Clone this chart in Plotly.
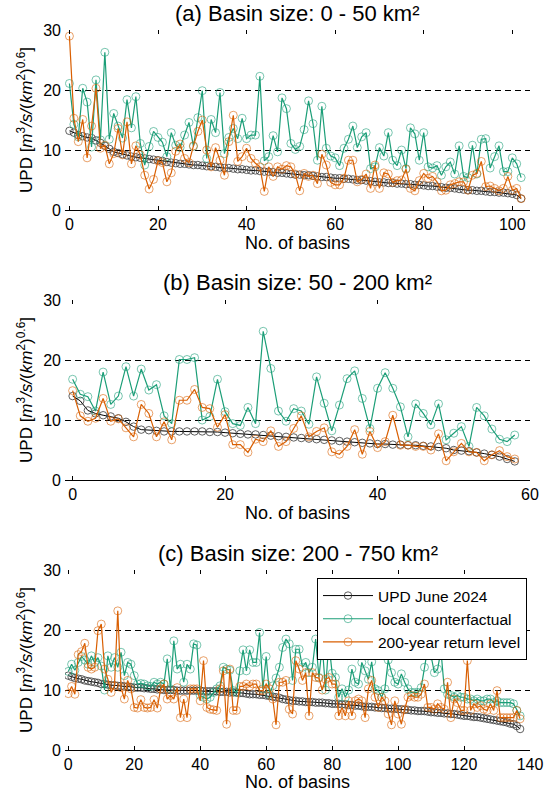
import plotly.graph_objects as go

# ---------------- data ----------------
series_names = ["UPD June 2024", "local counterfactual", "200-year return level"]
panel_titles = ["(a) Basin size: 0 - 50 km²", "(b) Basin size: 50 - 200 km²", "(c) Basin size: 200 - 750 km²"]
x_ticks_a = [0, 20, 40, 60, 80, 100]
x_ticks_b = [0, 20, 40, 60]
x_ticks_c = [0, 20, 40, 60, 80, 100, 120, 140]
y_ticks = [0, 10, 20, 30]

upd_a = [13.2, 12.9, 12.5, 12.3, 12.1, 12.0, 11.6, 11.2, 10.7, 10.2,
         9.7, 9.5, 9.3, 9.1, 8.9, 8.8, 8.7, 8.6, 8.5, 8.4,
         8.3, 8.2, 8.0, 7.9, 7.8, 7.7, 7.7, 7.6, 7.5, 7.5,
         7.4, 7.3, 7.3, 7.2, 7.1, 7.0, 7.0, 6.9, 6.8, 6.8,
         6.7, 6.6, 6.6, 6.5, 6.4, 6.4, 6.3, 6.2, 6.2, 6.1,
         6.0, 5.9, 5.9, 5.8, 5.8, 5.7, 5.6, 5.5, 5.5, 5.4,
         5.3, 5.3, 5.2, 5.2, 5.1, 5.0, 5.0, 4.9, 4.8, 4.7,
         4.6, 4.6, 4.5, 4.5, 4.4, 4.4, 4.3, 4.3, 4.2, 4.2,
         4.1, 4.0, 4.0, 3.9, 3.8, 3.7, 3.7, 3.6, 3.5, 3.4,
         3.3, 3.3, 3.2, 3.2, 3.1, 3.0, 3.0, 2.9, 2.9, 2.8,
         2.7, 2.5, 1.9]
cf_a = [21.1, 14.3, 12.2, 20.3, 18.0, 10.5, 21.7, 11.7, 26.3, 11.8,
        16.1, 14.0, 12.0, 18.4, 13.7, 18.9, 11.1, 7.5, 10.6, 13.1,
        12.1, 11.3, 8.9, 12.9, 10.8, 10.4, 12.5, 14.6, 10.6, 15.4,
        19.9, 8.6, 15.1, 12.9, 19.6, 9.4, 12.1, 13.6, 11.9, 15.3,
        11.9, 12.5, 12.5, 22.3, 8.2, 8.9, 12.4, 9.7, 18.7, 16.9,
        11.1, 10.1, 10.6, 13.4, 18.2, 14.4, 8.3, 17.3, 10.3, 9.0,
        8.7, 7.4, 10.3, 11.8, 14.0, 10.4, 12.2, 12.9, 6.9, 7.2,
        10.4, 9.0, 12.9, 8.3, 7.4, 10.0, 6.9, 13.7, 12.7, 8.3,
        12.9, 7.2, 7.0, 7.4, 5.8, 7.2, 8.0, 6.0, 10.7, 5.6,
        5.4, 10.8, 6.0, 11.8, 11.9, 7.0, 8.9, 10.7, 6.4, 6.4,
        8.7, 7.7, 5.4]
rl_a = [29.0, 15.3, 11.4, 15.1, 8.7, 14.0, 20.3, 10.3, 10.8, 7.7,
        9.4, 13.6, 9.2, 14.7, 7.7, 10.7, 9.2, 5.8, 3.5, 5.1,
        8.2, 7.9, 4.7, 6.2, 9.8, 11.0, 8.6, 7.9, 10.7, 13.1,
        15.0, 10.0, 7.2, 10.4, 8.3, 5.8, 11.4, 15.8, 8.1, 8.9,
        10.3, 8.6, 7.8, 7.2, 3.1, 7.2, 5.6, 7.2, 6.8, 7.4,
        7.2, 6.0, 3.2, 6.1, 5.6, 5.8, 4.4, 9.3, 7.5, 4.6,
        4.2, 4.2, 5.3, 8.3, 8.3, 4.7, 5.1, 6.0, 3.6, 7.5,
        3.6, 6.2, 6.0, 4.6, 4.9, 5.0, 6.8, 3.6, 3.2, 4.9,
        6.1, 5.3, 5.6, 4.7, 3.2, 3.3, 4.2, 4.4, 4.7, 4.7,
        3.3, 5.8, 6.1, 8.1, 3.9, 4.0, 3.6, 3.2, 3.6, 5.6,
        3.3, 3.6, 1.9]

upd_b = [14.0, 13.2, 11.6, 11.1, 10.8, 10.6, 10.3, 9.7, 8.9, 8.4,
         8.3, 8.2, 8.1, 8.1, 8.1, 8.1, 8.1, 8.1, 8.0, 8.0,
         7.9, 7.8, 7.7, 7.6, 7.6, 7.5, 7.4, 7.3, 7.2, 7.1,
         7.0, 6.9, 6.8, 6.7, 6.6, 6.5, 6.4, 6.3, 6.2, 6.1,
         6.0, 6.0, 5.9, 5.9, 5.8, 5.8, 5.7, 5.6, 5.5, 5.3,
         5.0, 4.9, 4.8, 4.6, 4.4, 4.2, 3.9, 3.5, 3.1]
cf_b = [16.8, 14.3, 13.9, 11.5, 18.0, 12.6, 14.0, 18.9, 14.0, 18.5,
        15.0, 15.9, 10.7, 9.4, 20.1, 20.1, 20.4, 10.0, 10.6, 16.8,
        11.4, 9.4, 9.1, 12.1, 9.4, 24.8, 18.6, 11.5, 9.8, 11.9,
        11.5, 9.3, 17.2, 12.8, 8.2, 12.5, 16.9, 18.2, 13.6, 8.6,
        15.3, 17.9, 15.3, 12.2, 7.2, 12.7, 11.1, 9.2, 12.7, 6.7,
        7.8, 8.9, 5.6, 12.1, 10.7, 8.5, 6.8, 6.4, 7.5]
rl_b = [14.9, 10.7, 9.8, 10.3, 13.6, 9.8, 10.2, 8.7, 7.2, 12.6,
        11.1, 7.2, 9.7, 6.7, 13.3, 13.3, 15.1, 12.1, 11.9, 8.8,
        10.9, 5.9, 5.9, 4.6, 6.8, 6.4, 8.2, 5.6, 6.4, 8.6,
        10.7, 7.2, 8.1, 8.7, 4.7, 4.3, 5.6, 8.4, 4.3, 8.1,
        5.4, 6.4, 10.8, 5.8, 5.8, 5.6, 5.6, 5.0, 7.7, 3.2,
        4.7, 6.1, 4.7, 4.6, 3.2, 4.2, 4.9, 3.9, 3.5]

upd_c = [12.4, 12.2, 12.0, 11.9, 11.8, 11.6, 11.5, 11.4, 11.3, 11.2,
         11.0, 11.0, 10.9, 10.8, 10.8, 10.7, 10.7, 10.6, 10.6, 10.5,
         10.4, 10.4, 10.4, 10.3, 10.3, 10.2, 10.2, 10.1, 10.1, 10.0,
         10.0, 10.0, 10.0, 9.9, 9.9, 9.9, 9.9, 9.9, 9.9, 9.9,
         9.9, 9.8, 9.8, 9.8, 9.8, 9.8, 9.7, 9.7, 9.7, 9.6,
         9.6, 9.6, 9.5, 9.5, 9.4, 9.3, 9.3, 9.3, 9.2, 9.2,
         9.1, 9.0, 8.9, 8.8, 8.7, 8.5, 8.4, 8.3, 8.2, 8.2,
         8.1, 8.1, 8.0, 8.0, 8.0, 7.9, 7.9, 7.9, 7.8, 7.8,
         7.7, 7.7, 7.7, 7.6, 7.6, 7.5, 7.5, 7.4, 7.4, 7.3,
         7.2, 7.2, 7.2, 7.1, 7.1, 7.0, 7.0, 6.9, 6.9, 6.9,
         6.8, 6.8, 6.7, 6.7, 6.6, 6.6, 6.5, 6.5, 6.5, 6.4,
         6.3, 6.3, 6.2, 6.2, 6.1, 6.1, 6.0, 6.0, 5.9, 5.8,
         5.7, 5.7, 5.6, 5.5, 5.5, 5.4, 5.3, 5.2, 5.1, 5.0,
         4.9, 4.8, 4.7, 4.6, 4.4, 4.3, 4.0, 3.5]
cf_c = [13.1, 14.3, 13.3, 14.6, 15.6, 15.0, 14.3, 15.7, 14.6, 15.4,
        14.0, 10.0, 15.7, 13.8, 15.4, 13.8, 16.3, 12.4, 14.6, 14.3,
        12.4, 11.0, 11.1, 11.0, 10.7, 10.6, 11.3, 11.0, 11.3, 11.0,
        15.2, 10.2, 18.2, 13.5, 14.3, 11.3, 14.3, 13.5, 17.7, 17.5,
        9.1, 8.8, 8.5, 8.8, 9.6, 10.2, 10.7, 13.8, 13.5, 13.3,
        9.9, 9.6, 13.2, 16.7, 13.2, 16.7, 14.6, 14.6, 19.6, 10.2,
        15.6, 9.3, 10.7, 12.0, 13.8, 17.1, 18.5, 17.7, 11.6, 16.8,
        16.8, 13.8, 14.6, 12.9, 13.8, 18.5, 12.1, 17.5, 10.0, 18.0,
        12.8, 12.1, 8.8, 10.2, 8.8, 10.0, 13.5, 11.3, 11.0, 14.6,
        13.2, 11.8, 14.7, 10.2, 9.9, 8.8, 10.2, 15.0, 12.9, 11.3,
        11.0, 12.7, 11.3, 10.2, 9.6, 9.6, 9.6, 10.4, 13.8, 17.0,
        15.7, 12.9, 13.5, 16.6, 10.2, 9.3, 9.1, 8.8, 9.1, 8.8,
        8.8, 8.5, 8.5, 8.2, 8.5, 8.2, 8.2, 8.5, 8.5, 7.9,
        8.2, 7.9, 7.9, 7.9, 7.9, 7.7, 6.6, 5.7]
rl_c = [9.4, 10.6, 9.3, 15.9, 16.4, 17.8, 13.8, 13.5, 13.8, 19.9,
        21.0, 13.5, 11.8, 9.6, 10.7, 23.2, 10.4, 8.5, 11.6, 10.2,
        7.1, 7.0, 8.4, 7.1, 7.0, 7.1, 8.4, 7.0, 10.2, 11.0,
        8.5, 9.1, 8.5, 10.4, 5.4, 8.5, 5.4, 10.2, 10.2, 10.2,
        8.2, 14.9, 7.1, 6.8, 6.7, 6.6, 10.2, 13.2, 4.3, 13.5,
        6.6, 6.6, 10.6, 10.6, 11.0, 10.6, 11.0, 11.0, 9.9, 9.9,
        11.0, 10.2, 8.5, 4.2, 11.3, 11.3, 11.6, 6.8, 6.0, 14.9,
        13.5, 11.6, 12.9, 5.7, 12.9, 12.1, 12.0, 10.0, 11.8, 12.1,
        11.0, 11.0, 5.7, 7.1, 5.7, 8.2, 5.7, 8.2, 8.5, 8.2,
        5.4, 10.2, 11.6, 8.8, 7.1, 8.8, 8.2, 6.0, 4.2, 8.2,
        6.0, 4.3, 6.8, 8.8, 9.1, 8.8, 8.8, 9.3, 11.0, 7.1,
        7.1, 6.8, 7.7, 7.1, 6.8, 11.3, 5.4, 8.5, 7.9, 6.6,
        6.6, 14.9, 6.6, 7.7, 7.1, 7.4, 6.8, 6.6, 7.7, 6.6,
        9.9, 5.4, 5.4, 5.4, 5.4, 5.4, 6.6, 5.2]

# ---------------- styling / layout ----------------
W, H = 550, 792
FONT = "Liberation Sans, Arial, Helvetica, sans-serif"
COL_UPD = "black"
COL_CF = "#1b9e77"
COL_RL = "#d95f02"
MK_UPD = "rgba(60,60,60,0.9)"
MK_CF = "rgba(27,158,119,0.65)"
MK_RL = "rgba(217,95,2,0.65)"


def py(p):
    return 1 - p / H


panels = [
    dict(title=panel_titles[0], upd=upd_a, cf=cf_a, rl=rl_a, xmax=104, xt=x_ticks_a, top=30, bot=210, tpos=13),
    dict(title=panel_titles[1], upd=upd_b, cf=cf_b, rl=rl_b, xmax=60, xt=x_ticks_b, top=300, bot=480, tpos=283),
    dict(title=panel_titles[2], upd=upd_c, cf=cf_c, rl=rl_c, xmax=140, xt=x_ticks_c, top=570, bot=750, tpos=553),
]

fig = go.Figure()
layout = dict(
    width=W, height=H,
    margin=dict(l=0, r=0, t=0, b=0, autoexpand=False),
    plot_bgcolor="white", paper_bgcolor="white",
    font=dict(family=FONT, color="black", size=16),
    showlegend=True,
    legend=dict(x=527 / W, xanchor="right", y=py(578), yanchor="top",
                bgcolor="white", bordercolor="black", borderwidth=1,
                font=dict(size=15.5, family=FONT), tracegroupgap=0, itemwidth=50),
    annotations=[],
)

ytitle = ("UPD [<i>m</i><sup>3</sup><i>/s/</i>(<i>km</i><sup>2</sup>)<sup>0.6</sup>]")
xdom = [65 / W, 530 / W]

for k, p in enumerate(panels, start=1):
    sx = "" if k == 1 else str(k)
    xid, yid = "x" + sx, "y" + sx
    ox, oy = k + 3, k + 3
    layout["xaxis" + sx] = dict(
        domain=xdom, anchor=yid, range=[-1, p["xmax"]], tickvals=p["xt"], automargin=False,
        ticks="inside", ticklen=4, tickcolor="black", tickwidth=1,
        showline=True, linecolor="black", linewidth=1, showgrid=False, zeroline=False,
        tickfont=dict(size=16),
        title=dict(text="No. of basins", font=dict(size=18), standoff=4),
    )
    layout["yaxis" + sx] = dict(
        domain=[py(p["bot"]), py(p["top"])], anchor=xid, range=[0, 30.02], tickvals=y_ticks,
        automargin=False,
        ticks="", showline=False, showgrid=True, gridcolor="black", gridwidth=1,
        griddash="6px,4px", zeroline=False, tickfont=dict(size=16),
        ticklabelstandoff=3,
        title=dict(text=ytitle, font=dict(size=17), standoff=6),
    )
    # mirrored ticks (top / right) without a box line
    layout["xaxis%d" % ox] = dict(
        overlaying=xid, anchor=yid, side="top", range=[-1, p["xmax"]], tickvals=p["xt"],
        automargin=False,
        ticks="inside", ticklen=4, tickcolor="black", showticklabels=False,
        showline=False, showgrid=False, zeroline=False,
    )
    layout["yaxis%d" % oy] = dict(
        overlaying=yid, anchor=xid, side="right", range=[0, 30.02], tickvals=y_ticks,
        automargin=False,
        ticks="inside", ticklen=4, tickcolor="black", showticklabels=False,
        showline=False, showgrid=False, zeroline=False,
    )
    fig.add_trace(go.Scatter(x=[None], y=[None], xaxis="x%d" % ox, yaxis="y%d" % oy,
                             showlegend=False, hoverinfo="skip", mode="markers"))

    show = (k == 3)
    fig.add_trace(go.Scatter(
        x=list(range(len(p["upd"]))), y=p["upd"], mode="lines+markers", name=series_names[0],
        xaxis=xid, yaxis=yid,
        line=dict(color=COL_UPD, width=1),
        marker=dict(symbol="circle-open", size=7.5, color=MK_UPD, line=dict(width=0.9)),
        showlegend=show, legendgroup="u"))
    fig.add_trace(go.Scatter(
        x=list(range(len(p["cf"]))), y=p["cf"], mode="lines+markers", name=series_names[1],
        xaxis=xid, yaxis=yid,
        line=dict(color=COL_CF, width=1.2),
        marker=dict(symbol="circle-open", size=8, color=MK_CF, line=dict(width=0.9)),
        showlegend=show, legendgroup="c"))
    fig.add_trace(go.Scatter(
        x=list(range(len(p["rl"]))), y=p["rl"], mode="lines+markers", name=series_names[2],
        xaxis=xid, yaxis=yid,
        line=dict(color=COL_RL, width=1.2),
        marker=dict(symbol="circle-open", size=8, color=MK_RL, line=dict(width=0.9)),
        showlegend=show, legendgroup="r"))

    layout["annotations"].append(dict(
        text=p["title"], x=(65 + 530) / 2 / W, xref="paper", y=py(p["tpos"]), yref="paper",
        xanchor="center", yanchor="middle", showarrow=False, font=dict(size=22, family=FONT)))

fig.update_layout(**layout)
fig.write_html("out.html",
               config={"displayModeBar": False},
               post_script="document.body.style.margin='0';document.body.style.padding='0';")
